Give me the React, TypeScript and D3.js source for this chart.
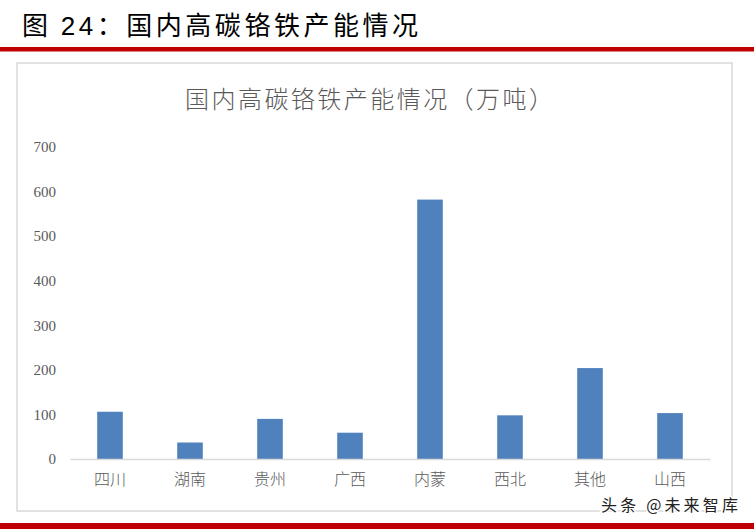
import React, { useEffect, useRef } from 'react';
import * as d3 from 'd3';

const regions = ['四川', '湖南', '贵州', '广西', '内蒙', '西北', '其他', '山西'];
const capacity = [106, 37, 90, 59, 582, 98, 204, 103];
const yTicks = [0, 100, 200, 300, 400, 500, 600, 700];

const figTitle = '图 24：国内高碳铬铁产能情况';
const chartTitle = '国内高碳铬铁产能情况（万吨）';
const watermark = '头条 @未来智库';

const CapacityChart = () => {
  const svgRef = useRef(null);

  const width = 754;
  const height = 529;
  const plot = { left: 70, right: 710, top: 147, bottom: 459 };
  const cjk = '"Noto Sans CJK SC", sans-serif';

  useEffect(() => {
    const svg = d3.select(svgRef.current);

    const xScale = d3.scaleBand()
      .domain(regions)
      .range([plot.left, plot.right])
      .paddingInner(0.68)
      .paddingOuter(0.34);

    const yScale = d3.scaleLinear()
      .domain([0, 700])
      .range([plot.bottom, plot.top]);

    const yAxis: any = d3.axisLeft(yScale)
      .tickValues(yTicks)
      .tickSize(0)
      .tickPadding(0);

    svg.select('.y-axis')
      .call(yAxis)
      .call(g => g.select('.domain').remove())
      .call(g => g.selectAll('.tick text')
        .attr('fill', '#595959')
        .style('font', '15px "Liberation Serif", serif'));

    const xAxis: any = d3.axisBottom(xScale)
      .tickSize(0)
      .tickPadding(15);

    svg.select('.x-axis')
      .call(xAxis)
      .call(g => g.select('.domain')
        .attr('stroke', '#d9d9d9')
        .attr('stroke-width', 1.5))
      .call(g => g.selectAll('.tick text')
        .attr('fill', '#595959')
        .style('font', `16px ${cjk}`)
        .style('font-weight', '300'));

    svg.select('.bars')
      .selectAll('rect')
      .data(capacity)
      .join('rect')
      .attr('x', (_, i) => xScale(regions[i]) as number)
      .attr('width', xScale.bandwidth())
      .attr('y', d => yScale(d))
      .attr('height', d => yScale(0) - yScale(d))
      .attr('fill', '#4f81bd');
  }, []);

  return (
    <svg ref={svgRef} width={width} height={height}
      style={{ position: 'absolute', left: 0, top: 0, background: '#fff' }}>
      <text x={22} y={35} fontSize={26} fill="#000" fontFamily={cjk}
        textLength={396} lengthAdjust="spacing">
        {figTitle.slice(0, 2)}
        <tspan fontFamily='"Liberation Sans", sans-serif'>24</tspan>
        {figTitle.slice(4)}
      </text>
      <rect x={0} y={47} width={width} height={4.5} fill="#c00000" />
      <rect x={17} y={63} width={715} height={448} fill="none" stroke="#d9d9d9" strokeWidth={1.5} />
      <text x={185} y={108} fontSize={24} fill="#595959" fontFamily={cjk} fontWeight={300}
        textLength={368} lengthAdjust="spacing">{chartTitle}</text>
      <g className="bars" />
      <g className="y-axis" transform="translate(56, 0)" />
      <g className="x-axis" transform={`translate(0, ${plot.bottom})`} />
      <text x={601} y={511} fontSize={16} fill="#222" fontFamily={cjk}
        stroke="#fff" strokeWidth={3} paintOrder="stroke"
        textLength={137} lengthAdjust="spacing">{watermark}</text>
      <rect x={0} y={523} width={width} height={6} fill="#c00000" />
    </svg>
  );
};

export default function App() {
  return <CapacityChart />;
}
